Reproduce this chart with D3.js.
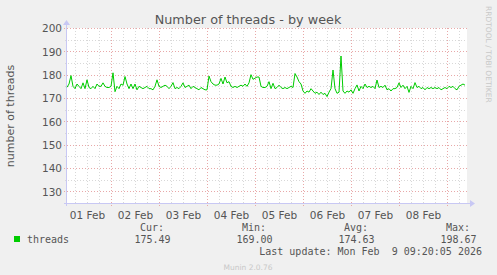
<!DOCTYPE html>
<html>
<head>
<meta charset="utf-8">
<script src="https://cdn.jsdelivr.net/npm/d3@7"></script>
<style>
  body { margin: 0; background: #f0f0f0; }
  svg { display: block; font-family: "DejaVu Sans", sans-serif; }
  .mono { font-family: "DejaVu Sans Mono", monospace; }
</style>
</head>
<body>
<svg id="chart" width="497" height="275"></svg>
<script>
// hourly samples starting at Feb 1 02:00 (UTC)
const dataStart = "2026-02-01T02:00:00Z";
const threads = [
  174.6, 176, 179.6, 175, 174, 176, 175, 174, 176.5, 174,
  177.8, 174.5, 174, 175, 174, 176, 175, 175, 176.5, 175,
  174.5, 174.5, 175, 180.8, 172.7, 175, 174, 176, 175.5, 179.2,
  176, 174, 176, 174, 176, 173.5, 175, 174.5, 174, 174.5,
  175, 174, 174, 173.5, 175, 177.8, 175, 174.5, 175, 175.5,
  175, 174, 175, 176.6, 174, 174.5, 174, 175, 176.5, 174.5,
  175, 175.5, 174, 175, 174.5, 174, 173.5, 174.5, 174, 173.5,
  173.5, 179.4, 177, 176, 175.5, 175.5, 176, 178.4, 176, 179,
  176.5, 177, 175, 174.5, 175, 174.5, 175, 175.5, 175, 176,
  175, 176.5, 180, 178, 178.5, 179, 179, 175, 174.5, 174.5,
  175, 177, 174, 176.3, 174, 174.5, 175.5, 174.5, 174, 174.5,
  174, 174.5, 175, 174.5, 180.5, 179, 177, 176, 173, 172,
  173, 172.5, 174, 173, 172, 172.5, 171.5, 172.5, 171.5, 172,
  170.6, 172.5, 174, 182, 174, 172, 172.5, 188, 173, 172,
  173, 172.5, 173.5, 172, 174, 175.6, 173, 175, 174, 176,
  174.5, 175, 174.5, 175, 174, 177.7, 174.5, 175, 174.5, 175.5,
  173.5, 174, 173, 174, 174, 174.5, 176.5, 174.5, 175.5, 174,
  175, 172.4, 175, 174, 176.6, 174.5, 175, 174, 174.5, 173.5,
  174.5, 174, 174.5, 174, 174.5, 174, 174.5, 173.5, 174, 174.5,
  174, 175, 174.5, 175, 174, 173.5, 175, 175.5, 176, 175.5
];
const yTicks = [130, 140, 150, 160, 170, 180, 190, 200];
const dayLabels = ["01 Feb", "02 Feb", "03 Feb", "04 Feb", "05 Feb", "06 Feb", "07 Feb", "08 Feb"];
const legendHeads = ["Cur:", "Min:", "Avg:", "Max:"];
const legendVals = ["175.49", "169.00", "174.63", "198.67"];

const svg = d3.select("#chart");
const plot = { left: 67, right: 467, top: 28, bottom: 203 };

const t0 = new Date(dataStart);
const hour = 3600 * 1000;
const series = threads.map((v, i) => ({ t: new Date(+t0 + i * hour), v: v }));

const x = d3.scaleUtc()
  .domain([t0, new Date(+t0 + 200 * hour)])
  .range([plot.left, plot.right]);
const y = d3.scaleLinear()
  .domain([125, 200])
  .range([plot.bottom, plot.top]);

// canvas
svg.append("rect").attr("x", plot.left).attr("y", plot.top)
  .attr("width", plot.right - plot.left).attr("height", plot.bottom - plot.top)
  .attr("fill", "#fff");

const grid = svg.append("g").attr("shape-rendering", "crispEdges");

// minor grid: every 5 units and 6 hours
d3.range(130, 200, 5).filter(v => v % 10 !== 0).forEach(v => {
  grid.append("line").attr("x1", plot.left - 2).attr("x2", plot.right)
    .attr("y1", Math.round(y(v)) + 0.5).attr("y2", Math.round(y(v)) + 0.5)
    .attr("stroke", "#d8d8d8").attr("stroke-dasharray", "1,2");
});
d3.utcHour.every(6).range(t0, x.domain()[1]).filter(d => d.getUTCHours() !== 0).forEach(d => {
  const px = Math.round(x(d)) + 0.5;
  grid.append("line").attr("x1", px).attr("x2", px)
    .attr("y1", plot.top).attr("y2", plot.bottom + 2)
    .attr("stroke", "#d8d8d8").attr("stroke-dasharray", "1,2");
});

// major grid
yTicks.forEach(v => {
  grid.append("line").attr("x1", plot.left - 3).attr("x2", plot.right)
    .attr("y1", Math.round(y(v)) + 0.5).attr("y2", Math.round(y(v)) + 0.5)
    .attr("stroke", "#e8a8a8").attr("stroke-dasharray", "1,2");
});
const midnights = d3.utcDay.range(t0, x.domain()[1]);
midnights.forEach(d => {
  const px = Math.round(x(d)) + 0.5;
  grid.append("line").attr("x1", px).attr("x2", px)
    .attr("y1", plot.top).attr("y2", plot.bottom + 3)
    .attr("stroke", "#e8a8a8").attr("stroke-dasharray", "1,2");
});

// y tick labels
const yAxis = svg.append("g")
  .attr("transform", `translate(${plot.left - 5},0)`)
  .call(d3.axisLeft(y).tickValues(yTicks).tickSize(0).tickPadding(0));
yAxis.select(".domain").remove();
yAxis.selectAll("text")
  .attr("font-family", "DejaVu Sans, sans-serif")
  .attr("font-size", 10.5).attr("fill", "#555").attr("dy", "0.35em");

// x tick labels at noon of each day
const noons = d3.utcDay.range(d3.utcDay.floor(t0), x.domain()[1])
  .map(d => new Date(+d + 12 * hour))
  .filter(d => d >= t0 && d <= x.domain()[1]);
const xAxis = svg.append("g")
  .attr("transform", `translate(0,${plot.bottom})`)
  .call(d3.axisBottom(x).tickValues(noons).tickSize(0).tickPadding(9)
    .tickFormat((d, i) => dayLabels[i]));
xAxis.select(".domain").remove();
xAxis.selectAll("text")
  .attr("font-family", "DejaVu Sans, sans-serif")
  .attr("font-size", 10.5).attr("fill", "#555");

// axes with arrows
const axisColor = "#c8c8f4";
svg.append("line").attr("x1", plot.left - 0.5).attr("x2", plot.left - 0.5)
  .attr("y1", plot.bottom + 3).attr("y2", plot.top - 4)
  .attr("stroke", axisColor);
svg.append("path")
  .attr("d", `M${plot.left - 4},${plot.top - 3}L${plot.left - 0.5},${plot.top - 8}L${plot.left + 3},${plot.top - 3}Z`)
  .attr("fill", axisColor);
svg.append("line").attr("x1", plot.left - 3).attr("x2", plot.right + 4)
  .attr("y1", plot.bottom + 0.5).attr("y2", plot.bottom + 0.5)
  .attr("stroke", axisColor);
svg.append("path")
  .attr("d", `M${plot.right + 3},${plot.bottom - 3}L${plot.right + 8},${plot.bottom + 0.5}L${plot.right + 3},${plot.bottom + 4}Z`)
  .attr("fill", axisColor);

// series
const line = d3.line().x(d => x(d.t)).y(d => y(d.v));
svg.append("path").datum(series)
  .attr("d", line)
  .attr("fill", "none")
  .attr("stroke", "#00cc00")
  .attr("stroke-width", 1);

// title and labels
svg.append("text").attr("x", 248).attr("y", 24)
  .attr("text-anchor", "middle").attr("font-size", 12.8).attr("fill", "#555")
  .text("Number of threads - by week");
svg.append("text")
  .attr("transform", "translate(14,116) rotate(-90)")
  .attr("text-anchor", "middle").attr("font-size", 11).attr("fill", "#555")
  .text("number of threads");
svg.append("text")
  .attr("transform", "translate(486,6) rotate(90)")
  .attr("font-size", 7.5).attr("fill", "#c8c8c8")
  .text("RRDTOOL / TOBI OETIKER");

// legend
svg.append("rect").attr("x", 14).attr("y", 236).attr("width", 6).attr("height", 6)
  .attr("fill", "#00cc00");
svg.append("text").attr("class", "mono").attr("x", 27).attr("y", 243)
  .attr("font-size", 10).attr("fill", "#555").text("threads");
const colRight = [164, 266, 368, 470];
legendHeads.forEach((h, i) => {
  svg.append("text").attr("class", "mono").attr("x", colRight[i]).attr("y", 231)
    .attr("text-anchor", "end").attr("font-size", 10).attr("fill", "#555").text(h);
  svg.append("text").attr("class", "mono").attr("x", colRight[i] + 6.5).attr("y", 243)
    .attr("text-anchor", "end").attr("font-size", 10).attr("fill", "#555").text(legendVals[i]);
});
svg.append("text").attr("class", "mono").attr("x", 482).attr("y", 255)
  .attr("text-anchor", "end").attr("font-size", 10).attr("fill", "#555")
  .attr("xml:space", "preserve").style("white-space", "pre")
  .text("Last update: Mon Feb  9 09:20:05 2026");
svg.append("text").attr("x", 248).attr("y", 270)
  .attr("text-anchor", "middle").attr("font-size", 7.5).attr("fill", "#c8c8c8")
  .text("Munin 2.0.76");
</script>
</body>
</html>
